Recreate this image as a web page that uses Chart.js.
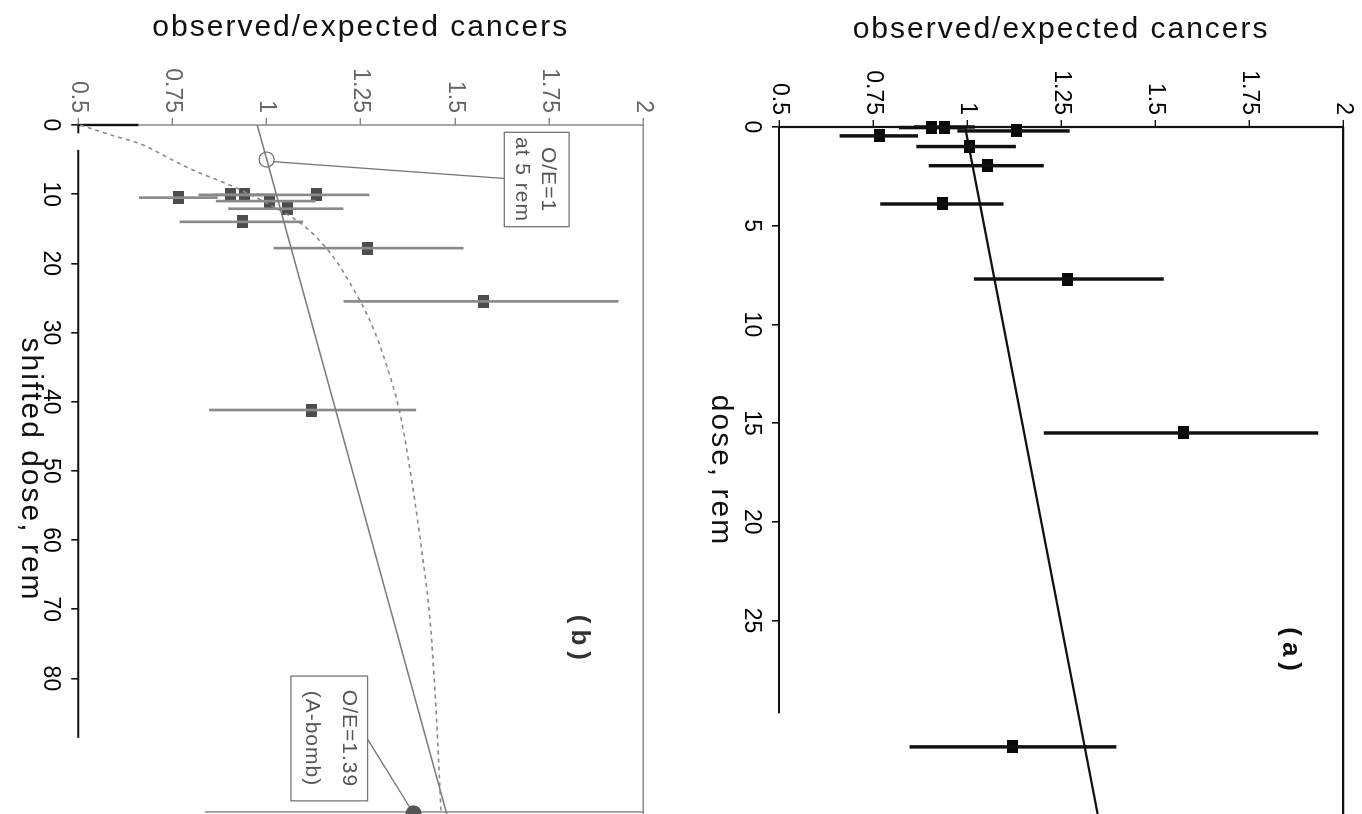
<!DOCTYPE html>
<html>
<head>
<meta charset="UTF-8">
<title>observed/expected cancers vs dose</title>
<script src="https://cdn.jsdelivr.net/npm/chart.js@4.4.0/dist/chart.umd.min.js"></script>
<style>
  html, body { margin: 0; padding: 0; background: #fff; overflow: hidden; width: 1362px; height: 814px; }
  /* both panels are laid out with dose along x, then turned a quarter turn clockwise */
  canvas { position: absolute; top: 0; transform-origin: 0 0; transform: rotate(90deg); }
  #panelA { left: 1362px; }
  #panelB { left: 680px; }
</style>
</head>
<body>
<canvas id="panelB" width="814" height="680"></canvas>
<canvas id="panelA" width="814" height="682"></canvas>
<script>
// axis ticks
const oeTicks = [0.5, 0.75, 1, 1.25, 1.5, 1.75, 2];
const oeTickLabels = ['0.5', '0.75', '1', '1.25', '1.5', '1.75', '2'];
const doseTicksA = [0, 5, 10, 15, 20, 25];
const doseTicksB = [0, 10, 20, 30, 40, 50, 60, 70, 80];

// dose groups: observed/expected ratio with its interval
const doseA  = [0.03, 0.0, 0.2, 0.45, 0.99, 1.96, 3.9, 7.7, 15.5, 31.4];
const doseB  = [10.1, 10.1, 10.1, 10.5, 11.0, 12.1, 14.0, 17.8, 25.5, 41.2];
const oeObs  = [0.905, 0.94, 1.132, 0.767, 1.007, 1.055, 0.935, 1.267, 1.575, 1.12];
const oeLow  = [0.82, 0.86, 0.975, 0.662, 0.866, 0.899, 0.770, 1.019, 1.205, 0.848];
const oeHigh = [0.99, 1.02, 1.272, 0.869, 1.129, 1.203, 1.096, 1.522, 1.933, 1.396];

// linear fits
const fitDoseA = [0, 34.8];
const fitOeA   = [0.995, 1.347];
const fitDoseB = [0, 99.6];
const fitOeB   = [0.975, 1.478];

// dotted curve, panel (b)
const curveDoseB = [0, 1.5, 2.7, 4.5, 6.3, 8.9, 11, 14, 17.9, 23.2, 29, 36.2, 41.2, 51, 60.8, 70.5, 80.2, 90, 99.6];
const curveOeB   = [0.505, 0.59, 0.663, 0.73, 0.796, 0.911, 0.99, 1.085, 1.16, 1.225, 1.28, 1.327, 1.352, 1.384, 1.41, 1.432, 1.445, 1.455, 1.463];

// reference points: O/E=1 at 5 rem, O/E=1.39 for A-bomb
const refDose = [5, 99.5];
const refOe   = [1, 1.39];

const FONT = "'Liberation Sans', Arial, Helvetica, sans-serif";

function pts(xs, ys) { return xs.map((x, i) => ({ x: x, y: ys[i] })); }
function spans(xs, lo, hi) { return xs.map((x, i) => ({ x: x, y: [lo[i], hi[i]] })); }

// small filled block used as the point marker (longer along the dose axis)
function block(w, h, color) {
  const c = document.createElement('canvas');
  c.width = w; c.height = h;
  const g = c.getContext('2d');
  g.fillStyle = color;
  g.fillRect(0, 0, w, h);
  return c;
}

function seg(ctx, sx, sy, x1, y1, x2, y2) {
  ctx.beginPath();
  ctx.moveTo(sx.getPixelForValue(x1), sy.getPixelForValue(y1));
  ctx.lineTo(sx.getPixelForValue(x2), sy.getPixelForValue(y2));
  ctx.stroke();
}

function axisTitles(chart, yText, xText, yTitleAt, xTitleAt) {
  const { ctx, chartArea: a } = chart;
  ctx.save();
  ctx.fillStyle = '#111';
  ctx.font = '30px ' + FONT;
  ctx.letterSpacing = '2px';
  ctx.textAlign = 'center';
  ctx.textBaseline = 'middle';
  ctx.save();
  ctx.translate(yTitleAt, (a.top + a.bottom) / 2);
  ctx.rotate(-Math.PI / 2);
  ctx.fillText(yText, 0, 0);
  ctx.restore();
  ctx.fillText(xText, (a.left + a.right) / 2, xTitleAt);
  ctx.restore();
}

function panelTag(chart, text, dose, oe, color) {
  const { ctx, scales: { x, y } } = chart;
  ctx.save();
  ctx.fillStyle = color;
  ctx.font = 'bold 26px ' + FONT;
  ctx.letterSpacing = '6px';
  ctx.textAlign = 'center';
  ctx.textBaseline = 'middle';
  ctx.fillText(text, x.getPixelForValue(dose), y.getPixelForValue(oe));
  ctx.restore();
}

function noteBox(chart, d0, d1, oe0, oe1, lines) {
  const { ctx, scales: { x, y } } = chart;
  const left = x.getPixelForValue(d0), right = x.getPixelForValue(d1);
  const top = y.getPixelForValue(oe1), bottom = y.getPixelForValue(oe0);
  ctx.save();
  ctx.strokeStyle = '#777';
  ctx.lineWidth = 1.3;
  ctx.strokeRect(left, top, right - left, bottom - top);
  ctx.fillStyle = '#555';
  ctx.font = '21px ' + FONT;
  ctx.letterSpacing = '1px';
  ctx.textAlign = 'center';
  ctx.textBaseline = 'middle';
  lines.forEach(l => ctx.fillText(l.text, (left + right) / 2, y.getPixelForValue(l.oe)));
  ctx.restore();
}

function scaleX(ticks, max, height, color) {
  return {
    type: 'linear', position: 'bottom', min: 0, max: max, offset: false,
    afterFit: s => { s.height = height; s.paddingLeft = 0; s.paddingRight = 0; },
    afterBuildTicks: s => { s.ticks = ticks.map(v => ({ value: v })); },
    ticks: { autoSkip: false, minRotation: 0, maxRotation: 0, padding: 7, color: '#000',
             font: { family: FONT, size: 23 } },
    grid: { offset: false, drawOnChartArea: false, drawTicks: true, tickLength: 7, color: color, lineWidth: 1.6 },
    border: { display: false }
  };
}

function scaleY(width, color, labelColor) {
  return {
    type: 'linear', position: 'left', min: 0.5, max: 2,
    afterFit: s => { s.width = width; },
    afterBuildTicks: s => { s.ticks = oeTicks.map(v => ({ value: v })); },
    ticks: { autoSkip: false, padding: 5, color: labelColor, font: { family: FONT, size: 23 },
             callback: v => oeTickLabels[oeTicks.indexOf(v)] },
    grid: { drawOnChartArea: false, drawTicks: true, tickLength: 7, color: color, lineWidth: 1.4 },
    border: { display: false }
  };
}

const common = {
  responsive: false,
  animation: false,
  events: [],
  plugins: { legend: { display: false }, tooltip: { enabled: false } }
};

// ---- panel (a): dose, rem ----
new Chart(document.getElementById('panelA'), {
  type: 'bar',
  data: {
    datasets: [
      { type: 'line', data: pts(fitDoseA, fitOeA), borderColor: '#111', borderWidth: 2.2, pointRadius: 0, clip: false },
      { type: 'bar', data: spans(doseA, oeLow, oeHigh), backgroundColor: '#111', barThickness: 2.8, borderWidth: 0, clip: false },
      { type: 'scatter', data: pts(doseA, oeObs), pointStyle: block(13, 11, '#0a0a0a'), pointRadius: 6, clip: false }
    ]
  },
  options: Object.assign({}, common, {
    layout: { autoPadding: false, padding: { top: 18, right: 0, bottom: 0, left: 0 } },
    scales: { x: scaleX(doseTicksA, 34.8, 99, '#111'), y: scaleY(127, '#111', '#000') }
  }),
  plugins: [{
    id: 'frameA',
    beforeDatasetsDraw(chart) {
      const { ctx, scales: { x, y } } = chart;
      ctx.save();
      ctx.strokeStyle = '#111';
      ctx.lineWidth = 2.2;
      seg(ctx, x, y, 0, 0.5, 0, 2);
      seg(ctx, x, y, 0, 2, x.max, 2);
      seg(ctx, x, y, 0, 0.5, 29.7, 0.5);
      ctx.restore();
    },
    afterDraw(chart) {
      axisTitles(chart, 'observed/expected cancers', 'dose, rem', 30, 642);
      panelTag(chart, '(a)', 26.6, 1.86, '#111');
    }
  }]
});

// ---- panel (b): shifted dose, rem ----
new Chart(document.getElementById('panelB'), {
  type: 'bar',
  data: {
    datasets: [
      { type: 'line', data: pts(curveDoseB, curveOeB), borderColor: '#8a8a8a', borderWidth: 1.6, borderDash: [4, 4],
        cubicInterpolationMode: 'monotone', pointRadius: 0, clip: false },
      { type: 'line', data: pts(fitDoseB, fitOeB), borderColor: '#7a7a7a', borderWidth: 1.5, pointRadius: 0, clip: false },
      { type: 'bar', data: spans(doseB, oeLow, oeHigh), backgroundColor: '#8a8a8a', barThickness: 2, borderWidth: 0, clip: false },
      { type: 'scatter', data: pts(doseB, oeObs), pointStyle: block(13, 11, '#4d4d4d'), pointRadius: 6, clip: false },
      { type: 'scatter', data: pts(refDose.slice(0, 1), refOe.slice(0, 1)), pointStyle: 'circle', pointRadius: 7.5,
        backgroundColor: 'rgba(0,0,0,0)', borderColor: '#777', borderWidth: 1.3, clip: false },
      { type: 'scatter', data: pts(refDose.slice(1), refOe.slice(1)), pointStyle: 'circle', pointRadius: 8,
        backgroundColor: '#555', borderWidth: 0, clip: false }
    ]
  },
  options: Object.assign({}, common, {
    layout: { autoPadding: false, padding: { top: 36.7, right: 0, bottom: 0, left: 0 } },
    scales: { x: scaleX(doseTicksB, 99.6, 78.3, '#111'), y: scaleY(125, '#888', '#666') }
  }),
  plugins: [{
    id: 'frameB',
    beforeDatasetsDraw(chart) {
      const { ctx, scales: { x, y } } = chart;
      ctx.save();
      ctx.strokeStyle = '#8a8a8a';
      ctx.lineWidth = 1.5;
      seg(ctx, x, y, 0, 0.66, 0, 2);
      seg(ctx, x, y, 0, 2, x.max, 2);
      seg(ctx, x, y, 99.3, 0.836, 99.3, 2);
      ctx.strokeStyle = '#111';
      ctx.lineWidth = 2.4;
      seg(ctx, x, y, 0, 0.5, 0, 0.66);
      ctx.lineWidth = 2;
      seg(ctx, x, y, 0, 0.5, 1.2, 0.5);
      seg(ctx, x, y, 3.6, 0.5, 88.6, 0.5);
      // leaders from the notes to the reference points
      ctx.strokeStyle = '#777';
      ctx.lineWidth = 1.3;
      seg(ctx, x, y, 5.3, 1.018, 7.73, 1.631);
      seg(ctx, x, y, 88.8, 1.268, refDose[1], refOe[1]);
      ctx.restore();
    },
    afterDraw(chart) {
      noteBox(chart, 1.06, 14.7, 1.631, 1.803, [{ text: 'O/E=1', oe: 1.747 }, { text: 'at 5 rem', oe: 1.677 }]);
      noteBox(chart, 79.66, 97.7, 1.0645, 1.268, [{ text: 'O/E=1.39', oe: 1.217 }, { text: '(A-bomb)', oe: 1.119 }]);
      axisTitles(chart, 'observed/expected cancers', 'shifted dose, rem', 28, 650);
      panelTag(chart, '(b)', 74.5, 1.83, '#333');
    }
  }]
});
</script>
</body>
</html>
